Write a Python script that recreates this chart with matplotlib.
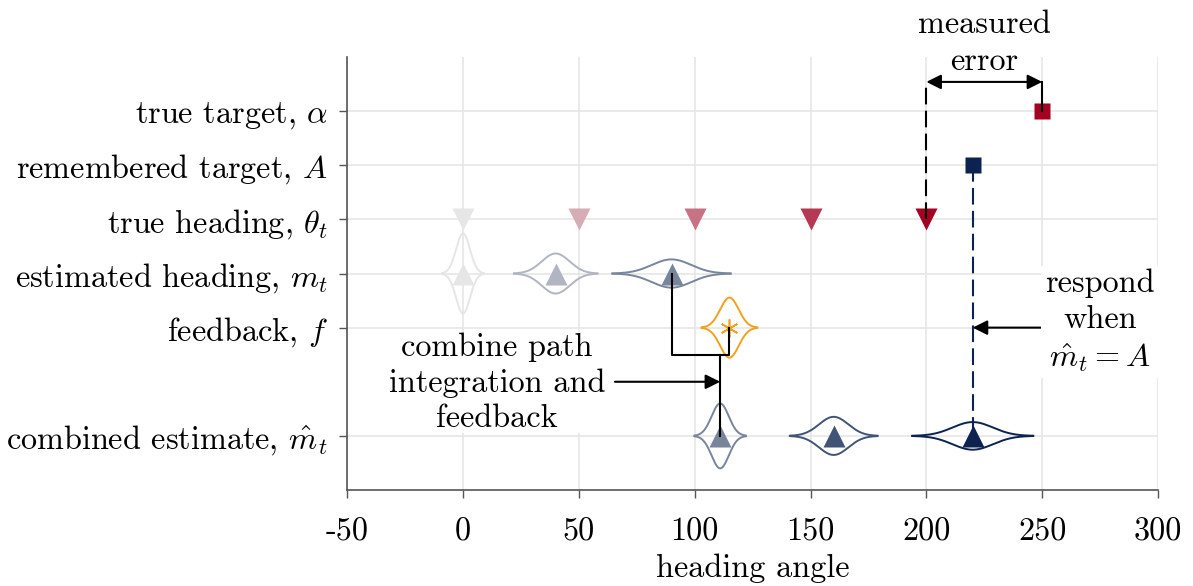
import numpy as np
import matplotlib.pyplot as plt
from matplotlib.colors import to_rgb

plt.rcParams["font.family"] = "serif"
plt.rcParams["font.serif"] = ["cmr10"]
plt.rcParams["mathtext.fontset"] = "cm"
plt.rcParams["axes.formatter.use_mathtext"] = True

# rows of the diagram
row_labels = [r"true target, $\alpha$", r"remembered target, $A$",
              r"true heading, $\theta_t$", r"estimated heading, $m_t$",
              r"feedback, $f$", r"combined estimate, $\hat{m}_t$"]
row_pos = [7, 6, 5, 4, 3, 1]

true_target = 250
remembered_target = 220
true_heading = [0, 50, 100, 150, 200]
heading_shade = [0, 0.25, 0.5, 0.75, 1.0]
est_heading = [0, 40, 90]
est_sigma = [3, 6, 8.5]
est_shade = [0, 0.25, 0.5]
feedback = 115
feedback_sigma = 4
combined = [111, 160, 220]
combined_sigma = [3.7, 6.3, 8.7]
combined_shade = [0.5, 0.75, 1.0]
xticks = [-50, 0, 50, 100, 150, 200, 250, 300]

RED = "#a50021"
NAVY = "#0c2350"
ORANGE = "#f0a11e"
LIGHT = "#e6e6e6"
FS = 23.2


def shade(col, f):
    a = np.array(to_rgb(LIGHT))
    b = np.array(to_rgb(col))
    return tuple(a + (b - a) * f)


def bump(ax, mu, sigma, y0, col):
    x = np.linspace(mu - 3 * sigma, mu + 3 * sigma, 200)
    h = 2.22 / sigma * np.exp(-(x - mu) ** 2 / (2 * sigma ** 2))
    ax.plot(x, y0 + h, color=col, lw=1.4, zorder=3)
    ax.plot(x, y0 - h, color=col, lw=1.4, zorder=3)


fig = plt.figure(figsize=(11.93, 5.86), dpi=100)
ax = fig.add_axes([0.291, 0.1638, 0.6797, 0.7389])

y_tt, y_rt, y_th, y_eh, y_fb, y_ce = row_pos

# true heading
for x, f in zip(true_heading, heading_shade):
    ax.plot(x, y_th, "v", color=shade(RED, f), ms=16, mec="none", zorder=4)

# estimated heading
for x, s, f in zip(est_heading, est_sigma, est_shade):
    c = shade(NAVY, f)
    bump(ax, x, s, y_eh, c)
    ax.plot(x, y_eh, "^", color=c, ms=16, mec="none", zorder=4)

# feedback
bump(ax, feedback, feedback_sigma, y_fb, ORANGE)
ax.plot(feedback, y_fb, marker=(6, 2, 0), color=ORANGE, ms=13, mew=1.2, zorder=4)

# combined estimate
for x, s, f in zip(combined, combined_sigma, combined_shade):
    c = shade(NAVY, f)
    bump(ax, x, s, y_ce, c)
    ax.plot(x, y_ce, "^", color=c, ms=16, mec="none", zorder=4)

# targets
ax.plot(true_target, y_tt, "s", color=RED, ms=11.5, mec="none", zorder=4)
ax.plot(remembered_target, y_rt, "s", color=NAVY, ms=11.5, mec="none", zorder=4)

arrow_kw = dict(color="black", lw=1.5, mutation_scale=22, shrinkA=0, shrinkB=0)

# measured error
y_err = 7.54
ax.plot([true_heading[-1]] * 2, [y_th, y_err], color="black", lw=1.5,
        ls=(0, (8, 3)), zorder=5)
ax.plot([true_target] * 2, [y_tt, y_err], color="black", lw=1.5, zorder=5)
ax.annotate("", xy=(true_heading[-1], y_err), xytext=(true_target, y_err),
            arrowprops=dict(arrowstyle="<|-|>", **arrow_kw), zorder=5)
ax.text((true_heading[-1] + true_target) / 2, 8.26, "measured\nerror",
        ha="center", va="center", fontsize=FS, linespacing=1.32, clip_on=False)

# respond when
ax.plot([remembered_target] * 2, [y_rt, y_ce], color=NAVY, lw=1.5,
        ls=(0, (8, 3)), zorder=2)
ax.annotate("", xy=(remembered_target, y_fb), xytext=(250.3, y_fb),
            arrowprops=dict(arrowstyle="-|>", **arrow_kw), zorder=5)
ax.text(275, 3.12, "respond\nwhen\n" + r"$\hat{m}_t = A$", ha="center", va="center",
        fontsize=FS, linespacing=1.3, zorder=6,
        bbox=dict(boxstyle="square,pad=0.12", fc="white", ec="none"))

# combine path integration and feedback
y_join = 2.5
ax.plot([est_heading[-1], est_heading[-1], feedback, feedback],
        [y_eh, y_join, y_join, y_fb], color="black", lw=1.5, zorder=5)
ax.plot([combined[0], combined[0]], [y_join, y_ce], color="black", lw=1.5, zorder=5)
ax.annotate("", xy=(combined[0], 2.0), xytext=(65.6, 2.0),
            arrowprops=dict(arrowstyle="-|>", **arrow_kw), zorder=5)
ax.text(14.7, 1.98, "combine path\nintegration and\nfeedback", ha="center",
        va="center", fontsize=FS, linespacing=1.27, zorder=6,
        bbox=dict(boxstyle="square,pad=0.0", fc="white", ec="none"))

ax.set_xlim(-50, 300)
ax.set_ylim(0, 8)
ax.set_xticks(xticks)
ax.set_xticklabels([str(v) for v in xticks])
ax.set_yticks(row_pos)
ax.set_yticklabels(row_labels)
ax.tick_params(labelsize=FS, length=6, color="#555555", width=1)
ax.tick_params(axis="x", pad=14)
ax.tick_params(axis="y", pad=8)
ax.set_xlabel("heading angle", fontsize=FS, labelpad=5)
ax.grid(True, color=LIGHT, lw=1.2, zorder=0)
ax.set_axisbelow(True)
for s in ["top", "right"]:
    ax.spines[s].set_visible(False)
for s in ["left", "bottom"]:
    ax.spines[s].set_color("#555555")
    ax.spines[s].set_linewidth(1.2)

fig.savefig("out.png", dpi=100)
